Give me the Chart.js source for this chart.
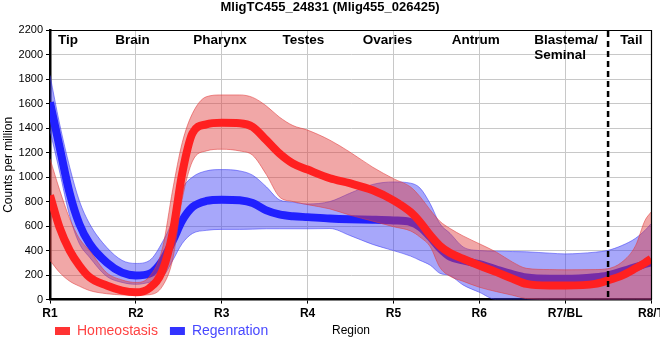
<!DOCTYPE html>
<html><head><meta charset="utf-8">
<script src="https://cdn.jsdelivr.net/npm/chart.js@4/dist/chart.umd.min.js"></script>
<style>
html,body{margin:0;padding:0;overflow:hidden;background:#fff;width:660px;height:360px}
#wrap{width:680px;height:360px}
</style></head>
<body><div id="wrap"><canvas id="c" width="680" height="360"></canvas></div>
<script>
const chartTitle = 'MligTC455_24831 (Mlig455_026425)';
const regionTicks = ['R1','R2','R3','R4','R5','R6','R7/BL','R8/T'];
const regionNames = ['Tip','Brain','Pharynx','Testes','Ovaries','Antrum',['Blastema/','Seminal'],'Tail'];
const regionNameAt = [0.21,0.96,1.98,2.95,3.93,4.96,5.64,6.77];
const boundaryAt = 6.5;
const seriesNames = ['Homeostasis','Regenration'];

const xPos    = [0,0.11,0.23,0.34,0.46,0.66,0.84,1,1.16,1.31,1.43,1.54,1.66,1.82,2,2.21,2.36,2.52,2.67,2.83,3,3.26,3.49,3.76,4,4.2,4.31,4.43,4.54,4.66,4.81,5,5.2,5.39,5.55,5.82,6,6.35,6.49,6.66,6.82,6.93,7];
const homMean = [850,592,400,280,183,115,74,60,95,237,550,1030,1358,1430,1443,1440,1410,1301,1194,1110,1061,990,950,892,810,714,633,524,440,380,333,278,224,170,128,115,115,128,155,196,255,300,333];
const homHi   = [1150,900,660,500,400,220,160,140,190,420,900,1280,1520,1655,1670,1670,1650,1580,1490,1420,1383,1301,1205,1080,987,919,840,730,640,580,520,456,387,305,255,245,243,245,251,305,440,646,714];
const homLo   = [320,223,150,110,74,48,38,35,40,110,330,820,1130,1213,1227,1213,1178,1020,840,800,775,740,690,640,595,560,510,430,264,190,150,101,65,35,8,0,0,0,0,0,0,0,0];
const regMean = [1610,1250,865,620,458,303,220,197,212,320,480,645,755,805,815,810,788,728,695,680,673,662,656,652,646,633,592,510,420,350,320,290,245,205,180,170,170,183,196,230,265,290,305];
const regHi   = [1830,1440,1080,810,620,427,320,295,320,470,650,900,1000,1050,1061,1050,1015,920,815,795,780,800,867,940,960,950,910,780,620,540,430,400,395,392,390,379,373,387,400,441,500,565,619];
const regLo   = [1380,1050,680,460,346,190,140,125,142,183,320,458,540,565,573,573,575,578,578,578,578,580,524,450,400,355,320,280,215,196,120,60,0,0,0,0,0,0,0,0,0,0,0];

const pts = arr => xPos.map((x,i)=>({x:x, y:arr[i]}));
const FONT = "'Liberation Sans', Arial, sans-serif";

const RED_LINE='#ff2020', RED_BAND='rgba(225,60,60,0.45)', RED_EDGE='rgba(225,60,60,0.55)';
const BLUE_LINE='#2020ff', BLUE_BAND='rgba(60,60,245,0.45)', BLUE_EDGE='rgba(60,60,245,0.55)';

const lineDs = (label, data, color) => ({label, data: pts(data), borderColor: color, backgroundColor: color,
  borderWidth: 8, pointRadius: 0, fill: false, cubicInterpolationMode: 'monotone'});
const bandDs = (label, data, bg, edge, fill) => ({label, data: pts(data), borderColor: edge, backgroundColor: bg,
  borderWidth: 1, pointRadius: 0, fill: fill, cubicInterpolationMode: 'monotone'});

const overlay = {
  id: 'overlay',
  afterLayout(chart) {
    const lg = chart.legend;
    if (lg) { lg.left = 43; lg.top = 312; }
  },
  afterDatasetsDraw(chart) {
    const {ctx, chartArea: a, scales: {x}} = chart;
    ctx.save();
    const bx = x.getPixelForValue(boundaryAt);
    ctx.strokeStyle = '#000'; ctx.lineWidth = 2.5; ctx.setLineDash([6,4]);
    ctx.beginPath(); ctx.moveTo(bx, a.top + 1); ctx.lineTo(bx, a.bottom); ctx.stroke();
    ctx.setLineDash([]);
    ctx.lineWidth = 1.2;
    ctx.beginPath(); ctx.moveTo(a.left, a.top + 0.5); ctx.lineTo(a.right + 0.5, a.top + 0.5); ctx.lineTo(a.right + 0.5, a.bottom); ctx.stroke();
    ctx.fillStyle = '#000';
    ctx.font = 'bold 13.5px ' + FONT;
    ctx.textBaseline = 'middle';
    regionNames.forEach((n, i) => {
      const px = x.getPixelForValue(regionNameAt[i]);
      if (Array.isArray(n)) {
        ctx.textAlign = 'left';
        n.forEach((t, j) => ctx.fillText(t, px, a.top + 10 + j * 15));
      } else {
        ctx.textAlign = 'center';
        ctx.fillText(n, px, a.top + 10);
      }
    });
    ctx.restore();
  },
  afterDraw(chart) {
    const {ctx} = chart;
    ctx.save();
    ctx.fillStyle = '#000';
    ctx.font = '12px ' + FONT;
    ctx.textAlign = 'center'; ctx.textBaseline = 'middle';
    ctx.fillText('Region', 351, 331);
    ctx.restore();
  }
};

new Chart(document.getElementById('c'), {
  type: 'line',
  data: {
    datasets: [
      lineDs(seriesNames[0], homMean, RED_LINE),
      bandDs('hom upper', homHi, RED_BAND, RED_EDGE, '+1'),
      bandDs('hom lower', homLo, RED_BAND, RED_EDGE, false),
      lineDs(seriesNames[1], regMean, BLUE_LINE),
      bandDs('reg upper', regHi, BLUE_BAND, BLUE_EDGE, '+1'),
      bandDs('reg lower', regLo, BLUE_BAND, BLUE_EDGE, false)
    ]
  },
  options: {
    responsive: false,
    animation: false,
    layout: {padding: {left: 9, right: 29, top: 0, bottom: 0}},
    plugins: {
      title: {display: true, text: chartTitle, color: '#000',
        font: {family: FONT, size: 13, weight: 'bold'}, padding: {top: 0, bottom: 14.4}},
      legend: {
        position: 'bottom', align: 'start', maxHeight: 36.6,
        labels: {
          boxWidth: 15, boxHeight: 8, padding: 12,
          font: {family: FONT, size: 14},
          generateLabels: (chart) => [
            {text: seriesNames[0], fillStyle: '#ff3333', strokeStyle: '#ff3333', lineWidth: 0, fontColor: '#ff4242', datasetIndex: 0, hidden: false},
            {text: seriesNames[1], fillStyle: '#3333ff', strokeStyle: '#3333ff', lineWidth: 0, fontColor: '#4848ff', datasetIndex: 3, hidden: false}
          ]
        }
      },
      tooltip: {enabled: false}
    },
    scales: {
      x: {
        type: 'linear', min: 0, max: 7,
        grid: {color: '#c8c8c8', lineWidth: 1, tickColor: '#000', tickLength: 4},
        border: {color: '#000', width: 2.5},
        ticks: {stepSize: 1, autoSkip: false, maxRotation: 0, color: '#000',
          font: {family: FONT, size: 12, weight: 'bold'},
          callback: v => regionTicks[v] !== undefined ? regionTicks[v] : ''}
      },
      y: {
        min: 0, max: 2200,
        grid: {color: '#c8c8c8', lineWidth: 1, tickColor: '#000', tickLength: 4},
        border: {color: '#000', width: 2.5},
        ticks: {stepSize: 200, color: '#000', font: {family: FONT, size: 11},
          callback: v => String(v)},
        title: {display: true, text: 'Counts per million', color: '#000',
          font: {family: FONT, size: 12}, padding: {top: -8, bottom: 0}},
        afterFit: s => { s.width = 41; }
      }
    }
  },
  plugins: [overlay]
});
</script>
</body></html>
